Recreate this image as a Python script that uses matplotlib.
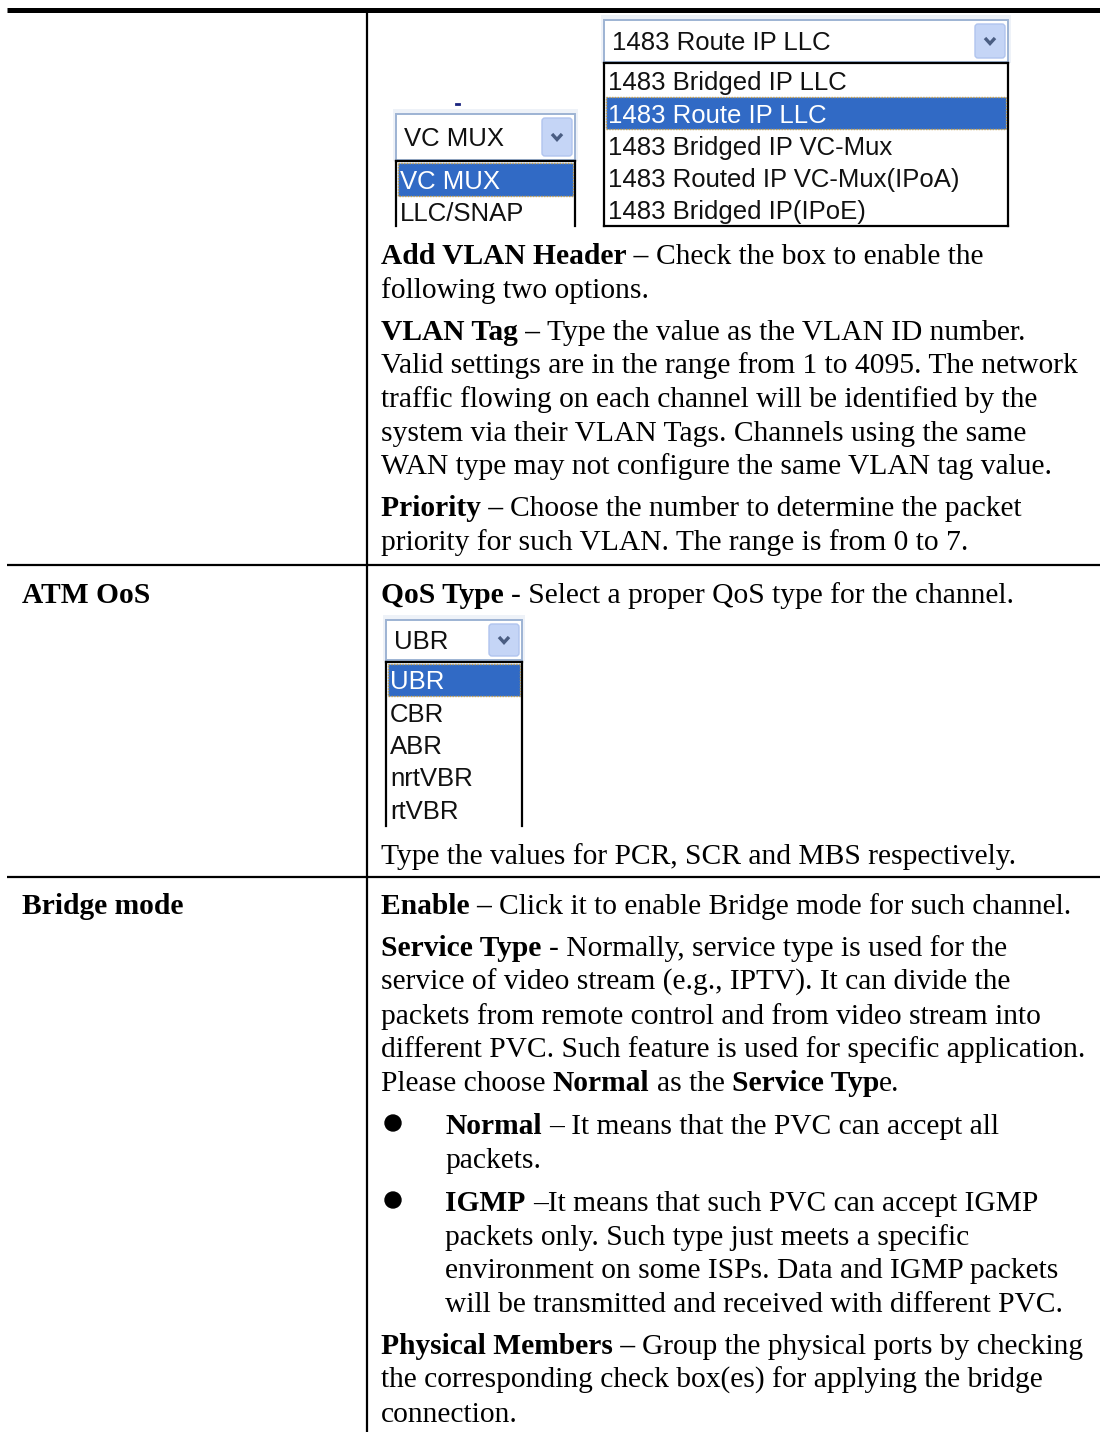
import matplotlib
matplotlib.use("Agg")
import matplotlib.pyplot as plt
from matplotlib.patches import Rectangle, FancyBboxPatch, Circle

# ---------------- content ----------------
left_labels = [("ATM OoS", 603), ("Bridge mode", 914)]

# (x, baseline_y, runs)  runs: list of (text, bold)
body_lines = [
    (381, 264, [("Add VLAN Header –", True), (" Check the box to enable the", False)]),
    (381, 298, [("following two options.", False)]),
    (381, 340, [("VLAN Tag –", True), (" Type the value as the VLAN ID number.", False)]),
    (381, 373, [("Valid settings are in the range from 1 to 4095. The network", False)]),
    (381, 407, [("traffic flowing on each channel will be identified by the", False)]),
    (381, 441, [("system via their VLAN Tags. Channels using the same", False)]),
    (381, 474, [("WAN type may not configure the same VLAN tag value.", False)]),
    (381, 516, [("Priority –", True), (" Choose the number to determine the packet", False)]),
    (381, 550, [("priority for such VLAN. The range is from 0 to 7.", False)]),
    (381, 603, [("QoS Type", True), (" - Select a proper QoS type for the channel.", False)]),
    (381, 864, [("Type the values for PCR, SCR and MBS respectively.", False)]),
    (381, 914, [("Enable –", True), (" Click it to enable Bridge mode for such channel.", False)]),
    (381, 956, [("Service Type", True), (" - Normally, service type is used for the", False)]),
    (381, 990, [("service of video stream (e.g., IPTV). It can divide the", False)]),
    (381, 1024, [("packets from remote control and from video stream into", False)]),
    (381, 1057, [("different PVC. Such feature is used for specific application.", False)]),
    (381, 1091, [("Please choose ", False), ("Normal", True), (" as the ", False),
                 ("Service Typ", True), ("e.", False)]),
    (445, 1134, [("Normal", True), (" – It means that the PVC can accept all", False)]),
    (445, 1168, [("packets.", False)]),
    (445, 1211, [("IGMP", True), (" –It means that such PVC can accept IGMP", False)]),
    (445, 1245, [("packets only. Such type just meets a specific", False)]),
    (445, 1278, [("environment on some ISPs. Data and IGMP packets", False)]),
    (445, 1312, [("will be transmitted and received with different PVC.", False)]),
    (381, 1354, [("Physical Members –", True), (" Group the physical ports by checking", False)]),
    (381, 1388, [("the corresponding check box(es) for applying the bridge", False)]),
    (381, 1422, [("connection.", False)]),
]
bullets_y = [1123, 1200]

encap_header = "1483 Route IP LLC"
encap_items = ["1483 Bridged IP LLC", "1483 Route IP LLC", "1483 Bridged IP VC-Mux",
               "1483 Routed IP VC-Mux(IPoA)", "1483 Bridged IP(IPoE)"]
encap_sel = 1
mux_header = "VC MUX"
mux_items = ["VC MUX", "LLC/SNAP"]
mux_sel = 0
qos_header = "UBR"
qos_items = ["UBR", "CBR", "ABR", "nrtVBR", "rtVBR"]
qos_sel = 0

# ---------------- figure ----------------
W, H = 1100, 1432
fig = plt.figure(figsize=(W / 100, H / 100), dpi=100)
ax = fig.add_axes([0, 0, 1, 1])
ax.set_xlim(0, W)
ax.set_ylim(H, 0)
ax.axis("off")
fig.canvas.draw()
renderer = fig.canvas.get_renderer()

SERIF = "Liberation Serif"
SANS = "Liberation Sans"


def text_width(s, size, bold=False, family=SERIF):
    t = ax.text(0, 0, s, fontsize=size, family=family,
                fontweight="bold" if bold else "normal")
    w = t.get_window_extent(renderer).width
    t.remove()
    return w


def space_width(size, bold, family=SERIF):
    return text_width("x x", size, bold, family) - text_width("xx", size, bold, family)


# fit body font to the reference line width (697 px)
ref = "Valid settings are in the range from 1 to 4095. The network"
BODY = 20 * 697 / text_width(ref, 20)
# fit widget font to reference width (352 px)
WREF = "1483 Routed IP VC-Mux(IPoA)"
WFS = 16 * 352 / text_width(WREF, 16, family=SANS)

sp = {True: space_width(BODY, True), False: space_width(BODY, False)}


def draw_runs(x, y, runs):
    for s, b in runs:
        lead = len(s) - len(s.lstrip(" "))
        trail = len(s) - len(s.rstrip(" "))
        core = s.strip(" ")
        x += lead * sp[b]
        if core:
            ax.text(x, y, core, fontsize=BODY, family=SERIF,
                    fontweight="bold" if b else "normal", va="baseline", ha="left",
                    color="black")
            x += text_width(core, BODY, b)
        x += trail * sp[b]


# ---------------- table rules ----------------
ax.plot([7, 1100], [9.5, 9.5], color="black", lw=3.6, solid_capstyle="butt")
ax.plot([367, 367], [11, H], color="black", lw=1.6, solid_capstyle="butt")
for yy in [564.5, 876.5]:
    ax.plot([7, 1100], [yy, yy], color="black", lw=1.6, solid_capstyle="butt")

for s, y in left_labels:
    ax.text(22, y, s, fontsize=BODY, family=SERIF, fontweight="bold", va="baseline")

for x, y, runs in body_lines:
    draw_runs(x, y, runs)

for by in bullets_y:
    ax.add_patch(Circle((393, by), 8, color="black"))


# ---------------- dropdown widgets ----------------
def dropdown(x0, x1, hy0, hy1, header, items, sel, ly0, item_h, ly1, bottom):
    # header box
    ax.add_patch(Rectangle((x0 - 3, hy0 - 5), x1 - x0 + 6, hy1 - hy0 + 6,
                           facecolor="#EEF2F8", edgecolor="none", zorder=1))
    ax.add_patch(Rectangle((x0, hy0), x1 - x0, hy1 - hy0, facecolor="white",
                           edgecolor="#9DB3D3", lw=1.4, zorder=2))
    bw = 30
    bx0 = x1 - bw - 3
    ax.add_patch(FancyBboxPatch((bx0, hy0 + 4), bw, hy1 - hy0 - 8,
                                boxstyle="round,pad=0,rounding_size=3",
                                facecolor="#C5D5F6", edgecolor="#B0C4EE", lw=1, zorder=3))
    cx = bx0 + bw / 2
    cy = (hy0 + hy1) / 2
    ax.plot([cx - 5, cx, cx + 5], [cy - 3, cy + 2.5, cy - 3], color="#4A5D82",
            lw=2.4, solid_capstyle="butt", solid_joinstyle="miter", zorder=4)
    fs_off = 0.36 * WFS * 100 / 72
    ax.text(x0 + 8, cy + fs_off, header, fontsize=WFS, family=SANS,
            va="baseline", color="#111111", zorder=4)
    # list
    ax.add_patch(Rectangle((x0, ly0), x1 - x0, ly1 - ly0, facecolor="white",
                           edgecolor="none", zorder=1))
    lw = 1.6
    ax.plot([x0, x1], [ly0, ly0], color="black", lw=lw, zorder=5)
    ax.plot([x0, x0], [ly0, ly1], color="black", lw=lw, zorder=5)
    ax.plot([x1, x1], [ly0, ly1], color="black", lw=lw, zorder=5)
    if bottom:
        ax.plot([x0, x1], [ly1, ly1], color="black", lw=lw, zorder=5)
    for i, it in enumerate(items):
        top = ly0 + 2 + i * item_h
        c = top + item_h / 2
        if i == sel:
            ax.add_patch(Rectangle((x0 + 2, top), x1 - x0 - 4, item_h,
                                   facecolor="#316AC5", edgecolor="#C9A24A",
                                   lw=1, ls=(0, (1, 1)), zorder=3))
            col = "white"
        else:
            col = "#111111"
        ax.text(x0 + 4, c + fs_off, it, fontsize=WFS, family=SANS,
                va="baseline", color=col, zorder=4)


dropdown(604, 1008, 20, 62, encap_header, encap_items, encap_sel, 63, 32.2, 226, True)
dropdown(396, 575, 114, 160, mux_header, mux_items, mux_sel, 161, 32.5, 226, False)
dropdown(386, 522, 620, 660, qos_header, qos_items, qos_sel, 662, 32.3, 826, False)
ax.plot([456, 459], [104, 104], color="#1A237E", lw=2)

fig.savefig("out.png", dpi=100)
